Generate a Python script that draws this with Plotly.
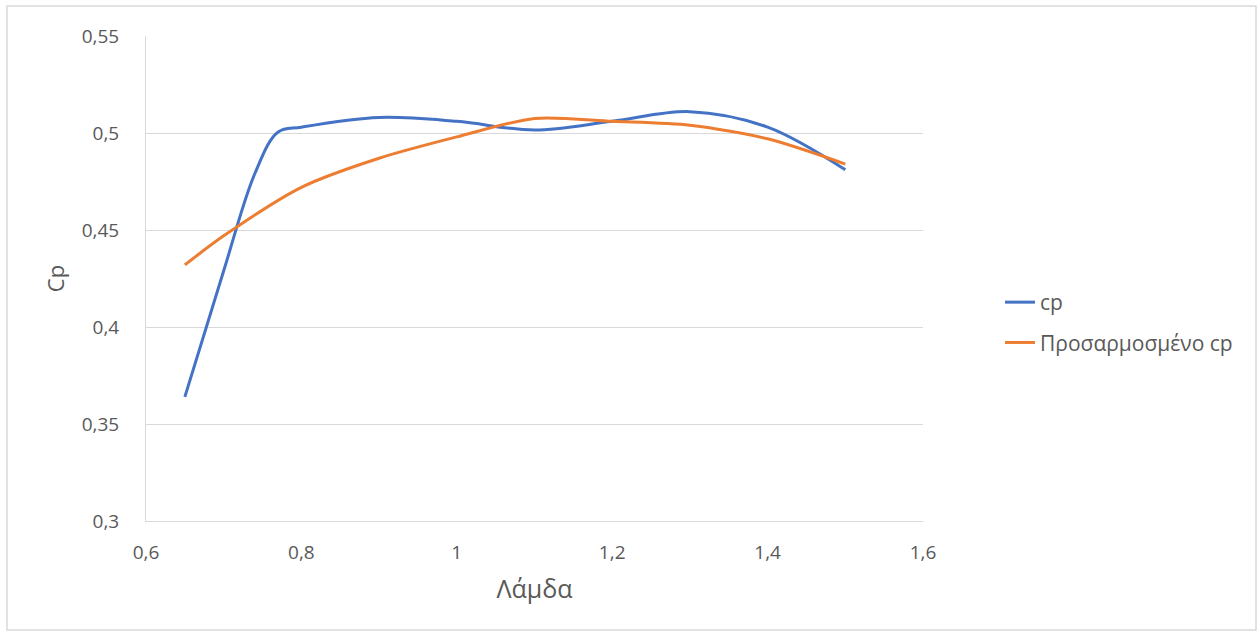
import plotly.graph_objects as go

# Data
lam_cp = [0.65, 0.70, 0.74, 0.77, 0.80, 0.90, 1.00, 1.10, 1.20, 1.30, 1.40, 1.50]
cp = [0.364, 0.429, 0.479, 0.5005, 0.503, 0.508, 0.506, 0.5015, 0.506, 0.511, 0.503, 0.481]

lam_fit = [0.65, 0.70, 0.80, 0.90, 1.00, 1.10, 1.20, 1.30, 1.40, 1.50]
cp_fit = [0.432, 0.447, 0.472, 0.487, 0.498, 0.5075, 0.506, 0.504, 0.497, 0.484]

x_ticks = [0.6, 0.8, 1.0, 1.2, 1.4, 1.6]
x_ticktext = ["0,6", "0,8", "1", "1,2", "1,4", "1,6"]
y_ticks = [0.3, 0.35, 0.4, 0.45, 0.5, 0.55]
y_ticktext = ["0,3", "0,35", "0,4", "0,45", "0,5", "0,55"]

W, H = 1260, 636
L, R, T, B = 146, 923, 36, 521

fig = go.Figure()
fig.add_trace(go.Scatter(x=lam_cp, y=cp, mode="lines", name="cp", legendgroup="a",
                         line=dict(color="#4472C4", width=3, shape="spline", smoothing=1.0)))
fig.add_trace(go.Scatter(x=lam_fit, y=cp_fit, mode="lines", name="Προσαρμοσμένο cp", legendgroup="b",
                         line=dict(color="#ED7D31", width=3, shape="spline", smoothing=0.8)))

font_color = "#595959"
fig.update_layout(
    width=W, height=H,
    paper_bgcolor="white", plot_bgcolor="white",
    margin=dict(l=L, r=W - R, t=T, b=H - B, pad=0),
    font=dict(family="Open Sans", size=19, color=font_color),
    xaxis=dict(range=[0.6, 1.6], tickvals=x_ticks, ticktext=x_ticktext,
               showgrid=False, showline=True, linecolor="#d9d9d9", linewidth=1,
               ticks="", zeroline=False, tickfont=dict(size=19, color=font_color),
               ticklabelstandoff=14,
               title=dict(text="Λάμδα", font=dict(size=25, color=font_color), standoff=16)),
    yaxis=dict(range=[0.3, 0.55], tickvals=y_ticks, ticktext=y_ticktext,
               showgrid=True, gridcolor="#d9d9d9", gridwidth=1,
               showline=True, linecolor="#d9d9d9", linewidth=1,
               ticks="", zeroline=False, tickfont=dict(size=19, color=font_color),
               ticklabelstandoff=22,
               title=dict(text="Cp", font=dict(size=22, color=font_color), standoff=10)),
    legend=dict(x=(1000 - L) / (R - L), y=(521 - 282) / (B - T), xanchor="left", yanchor="top",
                font=dict(size=21, color=font_color), tracegroupgap=10,
                bgcolor="rgba(0,0,0,0)"),
    showlegend=True,
)

# outer chart border
x0, x1, y0, y1 = 7, 1256, 6, 630
fig.add_shape(type="rect", xref="paper", yref="paper",
              x0=(x0 - L) / (R - L), x1=(x1 - L) / (R - L),
              y0=(B - y1) / (B - T), y1=(B - y0) / (B - T),
              line=dict(color="#d9d9d9", width=1.5), fillcolor="rgba(0,0,0,0)", layer="below")

fig.write_html("out.html", config={"displayModeBar": False},
               post_script="document.body.style.margin='0';")
